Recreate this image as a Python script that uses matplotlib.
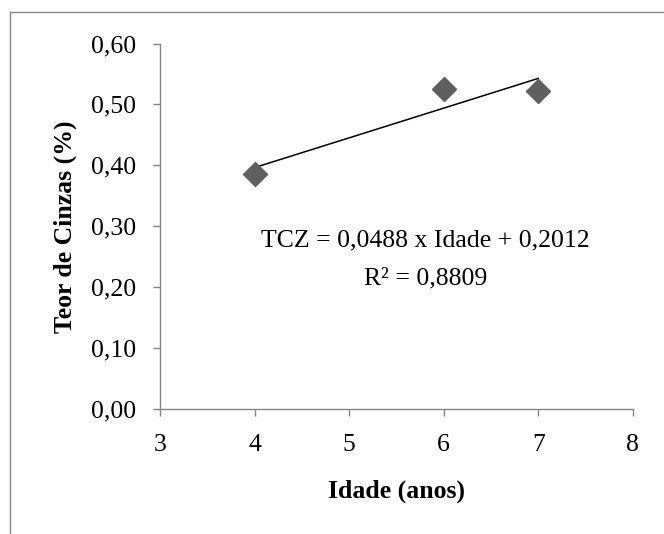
import numpy as np
import matplotlib
matplotlib.use("Agg")
import matplotlib.pyplot as plt
from matplotlib.lines import Line2D

# dados
idade = [4, 6, 7]
teor_cinzas = [0.386, 0.525, 0.522]
xticks = [3, 4, 5, 6, 7, 8]
yticks = [0.0, 0.1, 0.2, 0.3, 0.4, 0.5, 0.6]
equacao = "TCZ = 0,0488 x Idade + 0,2012"
r2_texto = "R² = 0,8809"

plt.rcParams["font.family"] = ["Liberation Serif", "DejaVu Serif"]
plt.rcParams["font.size"] = 18.5

fig = plt.figure(figsize=(6.64, 5.34), dpi=100)
ax = fig.add_axes([0.241, 0.234, 0.712, 0.6845])

# pontos
ax.plot(idade, teor_cinzas, linestyle="none", marker="D", markersize=12,
        color="#5f5f5f", zorder=3)

# linha de tendencia
coef = np.polyfit(idade, teor_cinzas, 1)
xs = np.array([min(idade), max(idade)])
ax.plot(xs, np.polyval(coef, xs), color="black", linewidth=1.1, zorder=2)

ax.text(5.81, 0.2775, equacao, ha="center", va="center")
ax.text(5.81, 0.215, r2_texto, ha="center", va="center")

ax.set_xlim(3, 8)
ax.set_ylim(0, 0.6)
ax.set_xticks(xticks)
ax.set_yticks(yticks)
ax.set_yticklabels([f"{v:.2f}".replace(".", ",") for v in yticks])

for s in ["top", "right"]:
    ax.spines[s].set_visible(False)
for s in ["left", "bottom"]:
    ax.spines[s].set_color("#868686")
    ax.spines[s].set_linewidth(1.0)
ax.tick_params(direction="out", length=5, width=1.0, color="#868686")
ax.tick_params(axis="y", pad=12)
ax.tick_params(axis="x", pad=13)

ax.set_xlabel("Idade (anos)", fontweight="bold", labelpad=17)
ax.set_ylabel("Teor de Cinzas (%)", fontweight="bold", labelpad=10)

# moldura (só topo e esquerda visíveis)
fig.add_artist(Line2D([10 / 664, 1], [1 - 12 / 534, 1 - 12 / 534],
                      color="#888888", linewidth=1.0, transform=fig.transFigure))
fig.add_artist(Line2D([10 / 664, 10 / 664], [0, 1 - 12 / 534],
                      color="#888888", linewidth=1.0, transform=fig.transFigure))

fig.savefig("out.png", dpi=100)
